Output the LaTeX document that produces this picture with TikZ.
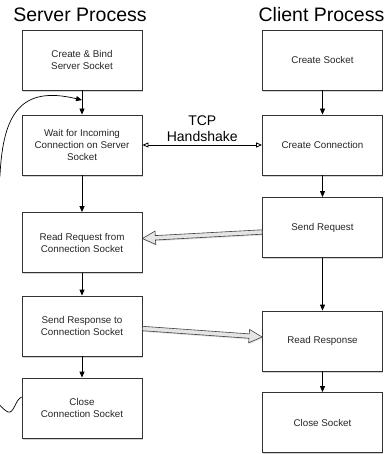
\documentclass[tikz,border=0pt]{standalone}
\usepackage{fontspec}
\setmainfont{Liberation Sans}
\usetikzlibrary{arrows.meta,calc,shadows}

% hollow block arrow from #1 (tail) to #2 (tip)
\newcommand\blockarrow[2]{%
  \path[hollow]
    ($(#1)!2.2pt!90:(#2)$) --
    ($($(#2)!13pt!(#1)$)!2.2pt!90:(#2)$) --
    ($($(#2)!13pt!(#1)$)!6.7pt!90:(#2)$) --
    (#2) --
    ($($(#2)!13pt!(#1)$)!6.7pt!-90:(#2)$) --
    ($($(#2)!13pt!(#1)$)!2.2pt!-90:(#2)$) --
    ($(#1)!2.2pt!-90:(#2)$) -- cycle;}

\begin{document}
\begin{tikzpicture}[x=1pt,y=-1pt,
  stepbox/.style={draw=black!80, line width=0.8pt, fill=white,
    minimum width=120pt, minimum height=60pt, align=center,
    font=\fontsize{9.8}{12}\selectfont, text=black!85, inner sep=2pt,
    drop shadow={shadow xshift=0.9pt,shadow yshift=-1.8pt,opacity=0.35}},
  flow/.style={-{Triangle[length=6pt,width=5pt]}, line width=0.8pt},
  handshake/.style={{Triangle[open,length=6pt,width=5pt]}-{Triangle[open,length=6pt,width=5pt]}, line width=0.8pt},
  title/.style={font=\fontsize{19.5}{22}\selectfont, anchor=base, inner sep=0pt},
  hollow/.style={draw=black!75, fill=black!10, line width=0.6pt, line join=miter,
    drop shadow={shadow xshift=0.6pt,shadow yshift=-1.2pt,opacity=0.25}}]
\useasboundingbox (0,0) rectangle (388,454);

% column headings
\node[title] (stitle) at (80,22) {Server Process};
\node[title] (ctitle) at (321.5,22) {Client Process};

% server side
\node[stepbox] (cbind) at (82,60)    {Create \& Bind\\Server Socket};
\node[stepbox] (wait)  at (82,145)   {Wait for Incoming\\Connection on Server\\Socket};
\node[stepbox] (rreq)  at (82,242.5) {Read Request from\\Connection Socket};
\node[stepbox] (sresp) at (82,326)   {Send Response to\\Connection Socket};
\node[stepbox] (closec) at (82,408)  {Close\\Connection Socket};

% client side
\node[stepbox] (csock)  at (322.5,60)    {Create Socket};
\node[stepbox] (conn)   at (322.5,145)   {Create Connection};
\node[stepbox] (sreq)   at (322.5,227.5) {Send Request};
\node[stepbox] (rresp)  at (322.5,341)   {Read Response};
\node[stepbox] (closes) at (322.5,422.5) {Close Socket};

% control flow
\draw[flow] (cbind) -- (wait);
\draw[flow] (wait) -- (rreq);
\draw[flow] (rreq) -- (sresp);
\draw[flow] (sresp) -- (closec);
\draw[flow] (csock) -- (conn);
\draw[flow] (conn) -- (sreq);
\draw[flow] (sreq) -- (rresp);
\draw[flow] (rresp) -- (closes);

% handshake
\draw[handshake] (wait.east) -- (conn.west);
\node[font=\fontsize{14}{16}\selectfont, align=center, anchor=south, inner sep=3pt] (tcp)
  at ($(wait.east)!0.5!(conn.west)$) {TCP\\Handshake};

% data transfer
\coordinate (reqtail) at ($(sreq.west)+(0,4.5)$);
\coordinate (reqtip)  at ($(rreq.east)+(0,-4)$);
\coordinate (resptail) at ($(sresp.east)+(0,2.5)$);
\coordinate (resptip)  at ($(rresp.west)+(0,-4)$);
\blockarrow{reqtail}{reqtip}
\blockarrow{resptail}{resptip}

% loop back to waiting for the next connection
\coordinate (loopin) at ($(cbind.south)!0.4!(wait.north)$);
\begin{scope}
\clip (0,0) rectangle (388,454);
\draw[flow, line width=0.7pt] ($(closec.west)+(0,-11)$)
  .. controls (15,400) and (14,414) .. (8,412)
  .. controls (0,408) and (-30,380) .. (-30,300)
  .. controls (-30,240) and (-3,205) .. (0,175)
  .. controls (3,115) and (20,85) .. (loopin);
\end{scope}
\end{tikzpicture}
\end{document}
